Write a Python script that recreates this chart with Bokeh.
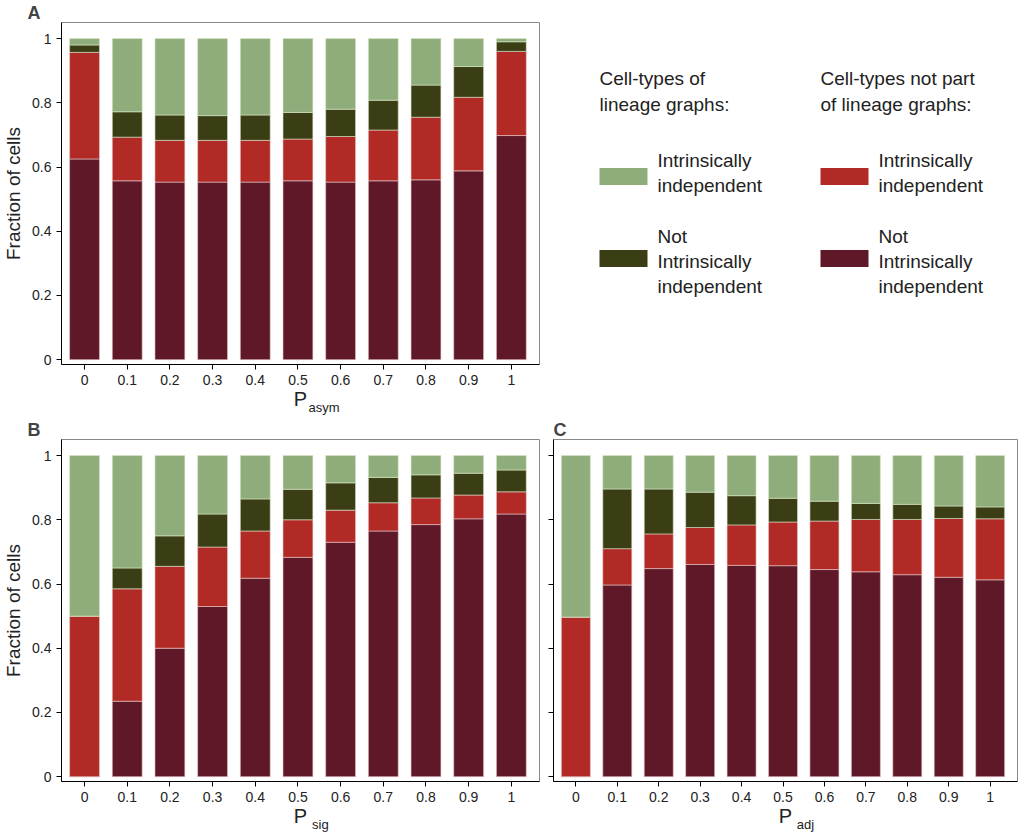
from bokeh.plotting import figure
from bokeh.layouts import row, column
from bokeh.models import Range1d, FixedTicker, LinearAxis
from bokeh.core.properties import value
from bokeh.embed import file_html
from bokeh.resources import INLINE

# x positions / tick labels
xs = [0, 0.1, 0.2, 0.3, 0.4, 0.5, 0.6, 0.7, 0.8, 0.9, 1.0]
xlabels = ["0", "0.1", "0.2", "0.3", "0.4", "0.5", "0.6", "0.7", "0.8", "0.9", "1"]

# cumulative tops: not-intrinsic (lineage-free), intrinsic (lineage-free), not-intrinsic (lineage), total=1
a_maroon = [0.625, 0.557, 0.553, 0.553, 0.553, 0.557, 0.553, 0.557, 0.560, 0.588, 0.698]
a_red = [0.957, 0.693, 0.683, 0.683, 0.683, 0.687, 0.695, 0.715, 0.755, 0.817, 0.960]
a_dkgreen = [0.980, 0.772, 0.762, 0.760, 0.762, 0.770, 0.780, 0.808, 0.855, 0.913, 0.990]

b_maroon = [0.0, 0.235, 0.400, 0.530, 0.618, 0.683, 0.730, 0.765, 0.785, 0.803, 0.818]
b_red = [0.500, 0.585, 0.655, 0.715, 0.765, 0.800, 0.830, 0.853, 0.868, 0.877, 0.887]
b_dkgreen = [0.500, 0.650, 0.750, 0.818, 0.865, 0.895, 0.915, 0.932, 0.940, 0.945, 0.955]

c_maroon = [0.0, 0.597, 0.648, 0.661, 0.658, 0.657, 0.645, 0.638, 0.629, 0.621, 0.613]
c_red = [0.497, 0.710, 0.756, 0.776, 0.784, 0.793, 0.796, 0.801, 0.801, 0.804, 0.803]
c_dkgreen = [0.497, 0.896, 0.896, 0.886, 0.875, 0.867, 0.858, 0.851, 0.848, 0.843, 0.840]

MAROON = "#5e1828"
RED = "#b22a25"
DKGREEN = "#3b3d15"
LTGREEN = "#8fad7b"
FONT = "Liberation Sans"
NBSP = "\u00a0"


def panel(letter, sub, maroon, red, dkgreen, fw, ylabels=True, left=54):
    p = figure(frame_width=fw, frame_height=342, output_backend="svg", toolbar_location=None,
               x_range=Range1d(-0.054, 1.066), y_range=Range1d(-0.015, 1.05),
               min_border_left=left, min_border_right=4, min_border_top=0, min_border_bottom=0)
    p.vbar(x=xs, bottom=0, top=maroon, width=0.07, fill_color=MAROON, line_color="#e8c8c8", line_width=0.6)
    p.vbar(x=xs, bottom=maroon, top=red, width=0.07, fill_color=RED, line_color="#e8c8c8", line_width=0.6)
    p.vbar(x=xs, bottom=red, top=dkgreen, width=0.07, fill_color=DKGREEN, line_color="#d8e8c8", line_width=0.6)
    p.vbar(x=xs, bottom=dkgreen, top=1, width=0.07, fill_color=LTGREEN, line_color="#d8e8c8", line_width=0.6)
    p.xgrid.visible = False
    p.ygrid.visible = False
    p.outline_line_color = "#888888"
    p.xaxis.ticker = FixedTicker(ticks=xs)
    p.xaxis.major_label_overrides = {x: l for x, l in zip(xs, xlabels)}
    p.yaxis.ticker = FixedTicker(ticks=[0, 0.2, 0.4, 0.6, 0.8, 1])
    if ylabels:
        p.yaxis.major_label_overrides = {0: "0", 0.2: "0.2", 0.4: "0.4", 0.6: "0.6", 0.8: "0.8", 1: "1"}
    else:
        p.yaxis.major_label_overrides = {0: "", 0.2: "", 0.4: "", 0.6: "", 0.8: "", 1: ""}
    for ax in (p.xaxis, p.yaxis):
        ax.minor_tick_line_color = None
        ax.major_tick_in = 0
        ax.major_tick_out = 5
        ax.major_label_text_font = FONT
        ax.major_label_text_font_size = "14px"
        ax.major_label_text_color = "#222222"
        ax.axis_label_text_font = FONT
        ax.axis_label_text_font_style = "normal"
        ax.axis_label_text_color = "#222222"
    p.xaxis.axis_label = "P"
    p.xaxis.axis_label_text_font_size = "20px"
    p.xaxis.axis_label_standoff = 0
    if ylabels:
        p.yaxis.axis_label = "Fraction of cells"
        p.yaxis.axis_label_text_font_size = "19px"
    # subscript via an extra, bare axis below
    subax = LinearAxis(axis_label=NBSP * (len(sub) * 2 + 5) + sub, major_tick_line_color=None,
                       minor_tick_line_color=None, axis_line_color=None,
                       major_label_overrides={x: "" for x in xs}, ticker=FixedTicker(ticks=xs),
                       major_label_standoff=0, major_tick_out=0,
                       axis_label_text_font=FONT, axis_label_text_font_size="13px",
                       axis_label_text_font_style="normal", axis_label_text_color="#222222",
                       axis_label_standoff=-13)
    p.add_layout(subax, "below")
    p.title.text = letter
    p.title.text_font = FONT
    p.title.text_font_size = "18px"
    p.title.text_font_style = "bold"
    p.title.align = "left"
    p.title.offset = -34
    p.title.standoff = 0
    return p


pa = panel("A", "asym", a_maroon, a_red, a_dkgreen, 478)
pb = panel("B", "sig", b_maroon, b_red, b_dkgreen, 478)
pc = panel("C", "adj", c_maroon, c_red, c_dkgreen, 464, ylabels=False, left=10)
pc.title.offset = 0

# legend panel
lg = figure(frame_width=452, frame_height=380, output_backend="svg", toolbar_location=None,
            x_range=Range1d(0, 452), y_range=Range1d(380, 0), min_border=0)
lg.axis.visible = False
lg.grid.visible = False
lg.outline_line_color = None

head_x = [56, 277]
head_lines = [["Cell-types of", "lineage graphs:"], ["Cell-types not part", "of lineage graphs:"]]
swatch_colors = [[LTGREEN, DKGREEN], [RED, MAROON]]
entry_lines = [["Intrinsically", "independent"], ["Not", "Intrinsically", "independent"]]
entry_y = [[138, 163], [214, 239, 264]]
swatch_y = [154, 236]

for i in range(2):
    lg.text(x=[head_x[i]] * 2, y=[56, 82], text=head_lines[i], text_font=value(FONT),
            text_font_size="19px", text_baseline="middle", text_color="#222222")
    for j in range(2):
        lg.rect(x=[head_x[i] + 24], y=[swatch_y[j]], width=48, height=17,
                fill_color=swatch_colors[i][j], line_color=None)
        lg.text(x=[head_x[i] + 58] * len(entry_lines[j]), y=entry_y[j], text=entry_lines[j],
                text_font=value(FONT), text_font_size="19px", text_baseline="middle",
                text_color="#222222")

layout = column(row(pa, lg), row(pb, pc))
open("out.html", "w").write(file_html(layout, INLINE))
